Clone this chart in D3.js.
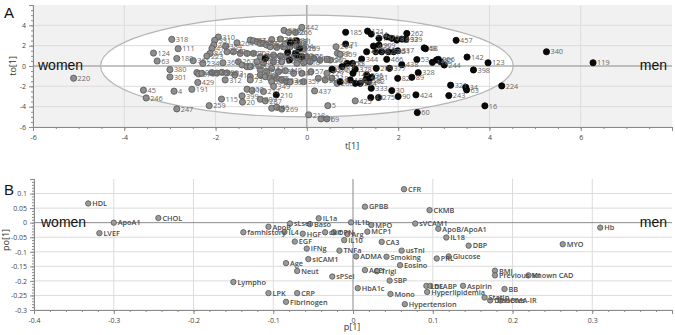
<!DOCTYPE html>
<html>
<head>
<meta charset="utf-8">
<script src="https://cdn.jsdelivr.net/npm/d3@7"></script>
<style>
  body { margin: 0; background: #fff; }
  svg { display: block; }
  text { font-family: "Open Sans", "DejaVu Sans", sans-serif; }
</style>
</head>
<body>
<svg width="675" height="335"></svg>
<script>
// score plot (A): [id, t[1], to[1]]
const womenScores = [
  ["220",-5.11,-1.20],["124",-3.36,1.27],["63",-3.28,0.49],["318",-2.96,2.62],["111",-2.82,1.70],
  ["188",-2.85,0.74],["380",-3.00,-0.36],["301",-3.00,-1.08],["45",-3.58,-2.38],["246",-3.52,-3.14],
  ["4",-2.91,-2.48],["247",-2.85,-4.22],["191",-2.52,-2.29],["429",-2.39,-1.62],["259",-2.14,-3.90],
  ["361",-2.49,0.52],["234",-2.28,0.26],["105",-2.41,-0.65],["379",-2.37,-0.78],["436",-2.30,-0.72],
  ["92",-2.08,-0.65],["156",-1.97,-0.70],["396",-1.86,-0.62],["433",-1.75,-0.68],["115",-1.87,-3.25],
  ["310",-1.94,2.85],["331",-2.02,2.52],["374",-2.04,2.06],["411",-2.08,1.73],["84",-2.12,1.24],
  ["223",-2.19,0.98],["384",-1.78,1.95],["367",-1.84,0.32],["312",-1.79,-1.37],["415",-1.58,-0.88],
  ["264",-1.53,2.28],["290",-1.75,1.40],["47",-1.61,1.40],["334",-1.46,1.24],["152",-1.31,1.24],
  ["203",-1.17,1.24],["387",-1.02,0.91],["172",-0.88,0.91],["252",-0.73,1.08],["101",-0.58,0.98],
  ["316",-0.44,0.91],["12",-0.29,0.85],["306",-0.15,0.75],["461",-1.24,2.55],["97",-1.17,2.48],
  ["265",-1.09,2.38],["177",-1.02,2.22],["288",-0.95,2.22],["134",-0.88,2.06],["36",-0.80,1.89],
  ["226",-0.66,1.83],["148",-0.51,1.89],["311",-0.37,1.89],["404",-0.22,1.96],["239",-0.07,1.73],
  ["372",-0.77,2.60],["255",-0.58,2.65],["158",-0.47,2.20],["208",-0.37,2.40],["281",-0.26,2.45],
  ["395",-0.50,3.50],["386",-0.40,3.30],["266",-0.25,3.30],["267",-1.50,0.42],["126",-1.42,0.10],
  ["295",-1.31,-0.07],["138",-1.24,-0.07],["402",-1.09,0.42],["283",-0.95,0.32],["171",-0.73,0.42],
  ["61",-0.55,0.42],["3",-0.22,0.26],["413",-0.07,0.32],["39",-1.02,-0.39],["304",-0.88,-0.56],
  ["135",-0.62,-0.56],["440",-0.47,-0.46],["184",-0.29,-0.72],["17",-0.11,-0.72],["28",-1.24,-1.05],
  ["196",-1.02,-0.88],["70",-0.91,-1.05],["112",-0.80,-1.21],["25",-0.66,-1.21],["230",-0.77,-1.54],
  ["313",-0.55,-1.37],["140",-0.44,-1.54],["351",-0.37,-1.57],["73",-1.24,-1.37],["41",-0.77,-0.23],
  ["349",-0.73,-2.00],["200",-1.31,-2.28],["1",-1.20,-2.42],["217",-0.95,-2.51],["399",-1.42,-2.94],
  ["20",-1.41,-3.55],["409",-1.02,-3.27],["287",-0.91,-3.43],["65",-0.77,-4.15],["46",-0.66,-4.05],
  ["269",-0.55,-4.24],["218",0.04,-4.80],["81",0.31,-5.20],["69",0.44,-5.20],["442",-0.11,3.80],
  ["57",0.09,-0.56],["437",0.17,-2.45],["5",0.46,-3.90],["425",1.06,-3.43],["362",0.51,0.59],
  ["98",0.67,1.25],["294",0.64,1.89],["305",0.00,0.91],["117",0.15,0.75],["216",0.29,0.59],
  ["150",0.44,0.66],["19",0.07,0.42],["359",0.73,1.15],["343",0.25,-1.21],["29",0.40,-1.37],
  ["118",0.55,-1.21],["260",0.66,-1.70],["229",0.44,-0.72],["270",0.58,-0.39],["357",-0.07,-1.54]
];
const menScores = [
  ["210",-0.67,-2.84],["144",-0.36,2.28],["95",-0.25,1.25],["56",-0.38,0.59],["431",-0.91,0.75],
  ["31",-0.22,2.48],["354",-0.42,1.34],["416",-0.16,1.73],["199",-0.22,1.08],["327",-0.11,0.91],
  ["185",0.85,3.32],["121",1.33,3.43],["254",1.41,3.14],["75",1.58,2.72],["76",1.75,2.87],
  ["262",2.19,3.20],["339",2.17,2.62],["78",1.86,2.72],["18",1.97,2.55],["192",2.08,2.65],
  ["309",1.58,2.06],["405",1.46,1.96],["71",0.85,2.16],["457",3.27,2.53],["48",2.57,1.78],
  ["58",2.60,1.70],["337",1.99,1.50],["42",1.31,1.40],["32",1.51,1.40],["323",1.64,1.40],
  ["176",1.79,1.40],["451",1.90,1.40],["344",1.20,0.69],["466",1.75,0.66],["53",2.41,0.63],
  ["438",2.08,0.13],["285",2.84,0.59],["256",2.88,0.66],["2",2.93,0.42],["110",2.75,0.36],
  ["244",3.01,0.10],["142",3.51,0.88],["123",3.97,0.32],["398",3.65,-0.39],["340",5.25,1.40],
  ["119",6.27,0.32],["209",1.52,-0.23],["377",1.81,-0.23],["328",2.44,-0.66],["89",2.30,-1.11],
  ["82",1.99,-1.21],["181",1.42,-1.11],["162",1.35,-1.54],["125",1.01,-0.72],["378",1.06,-0.32],
  ["106",0.95,-1.37],["279",1.06,-1.70],["204",1.17,-1.70],["228",1.29,-1.37],["8",0.73,-1.54],
  ["296",1.31,-0.88],["99",0.77,-0.07],["450",0.88,0.26],["13",1.00,0.26],["370",0.55,-0.32],
  ["333",1.41,-2.19],["30",1.86,-2.42],["90",2.00,-3.00],["424",2.39,-2.84],["43",1.40,-3.10],
  ["275",1.57,-3.10],["60",2.42,-4.58],["321",3.15,-1.89],["34",3.48,-2.09],["63",3.50,-2.35],
  ["224",4.27,-1.96],["243",3.11,-2.91],["16",3.90,-3.92]
];

// loading plot (B): [variable, p[1], po[1]]
const loadings = [
  ["HDL",-0.332,0.066],["ApoA1",-0.300,0.000],["CHOL",-0.244,0.016],["LVEF",-0.318,-0.036],
  ["Lympho",-0.150,-0.204],["famhistory",-0.1375,-0.033],["ApoB",-0.106,-0.014],["sLsel",-0.079,-0.003],
  ["IL4",-0.086,-0.032],["Baso",-0.054,-0.005],["IL1a",-0.043,0.015],["IL1b",-0.0025,0.001],
  ["HGF",-0.063,-0.038],["EGF",-0.073,-0.065],["ckit",-0.035,-0.033],["OPN",-0.024,-0.033],
  ["Arg",-0.007,-0.039],["IL10",-0.011,-0.060],["IFNg",-0.058,-0.089],["TNFa",-0.017,-0.096],
  ["sICAM1",-0.056,-0.125],["Age",-0.084,-0.139],["Neut",-0.070,-0.166],["sPSel",-0.026,-0.185],
  ["LPK",-0.106,-0.242],["CRP",-0.070,-0.242],["Fibrinogen",-0.084,-0.272],["ADMA",0.004,-0.116],
  ["HbA1c",0.006,-0.225],["CFR",0.064,0.115],["GPBB",0.015,0.055],["CKMB",0.096,0.043],
  ["MPO",0.023,-0.008],["sVCAM1",0.078,-0.003],["MCP1",0.018,-0.031],["ApoB/ApoA1",0.107,-0.021],
  ["IL18",0.117,-0.051],["DBP",0.145,-0.079],["CA3",0.036,-0.066],["usTnI",0.061,-0.096],
  ["Smoking",0.042,-0.117],["PRL",0.105,-0.123],["Glucose",0.120,-0.116],["Eosino",0.059,-0.146],
  ["ACEi",0.015,-0.163],["Trigl",0.030,-0.167],["SBP",0.046,-0.199],["Mono",0.047,-0.245],
  ["Hypertension",0.065,-0.280],["LDL",0.092,-0.217],["hFABP",0.097,-0.217],["Hyperlipidemia",0.093,-0.238],
  ["Aspirin",0.138,-0.217],["Statin",0.165,-0.257],["BMI",0.178,-0.165],["Previous MI",0.178,-0.181],
  ["Known CAD",0.220,-0.181],["BB",0.190,-0.228],["Diabetes",0.172,-0.267],["HOMA-IR",0.185,-0.267],
  ["MYO",0.263,-0.074],["Hb",0.310,-0.017]
];

const aTicksX = [-6, -4, -2, 0, 2, 4, 6];
const aTicksY = [-6, -4, -2, 0, 2, 4];
const bTicksX = [-0.4, -0.3, -0.2, -0.1, 0, 0.1, 0.2, 0.3];
const bTicksY = [-0.3, -0.25, -0.2, -0.15, -0.1, -0.05, 0, 0.05, 0.1];

const svg = d3.select("svg");
const plainFmt = d => String(+(+d).toFixed(2)); //hyphen minus like the original

//draw one panel frame: background, grid, zero lines, axes
function drawFrame(g, x, y, ticksX, ticksY, minorX, minorY, bg) {
  const [x0, x1] = x.range(), [y0, y1] = y.range();
  g.append("rect").attr("x", x0).attr("y", y1).attr("width", x1 - x0).attr("height", y0 - y1).attr("fill", bg);
  return function () {
    g.append("g").selectAll("line").data(ticksX.filter(d => d !== 0)).join("line")
      .attr("x1", d => x(d)).attr("x2", d => x(d)).attr("y1", y0).attr("y2", y1)
      .attr("stroke", "#dcdcdc").attr("stroke-width", 1);
    g.append("g").selectAll("line").data(ticksY.filter(d => d !== 0)).join("line")
      .attr("y1", d => y(d)).attr("y2", d => y(d)).attr("x1", x0).attr("x2", x1)
      .attr("stroke", "#dcdcdc").attr("stroke-width", 1);
    g.append("line").attr("x1", x(0)).attr("x2", x(0)).attr("y1", y0).attr("y2", y1).attr("stroke", "#8a8a8a");
    g.append("line").attr("x1", x0).attr("x2", x1).attr("y1", y(0)).attr("y2", y(0)).attr("stroke", "#8a8a8a");

    const ax = g.append("g").attr("transform", `translate(0,${y0})`)
      .call(d3.axisBottom(x).tickValues(ticksX).tickSize(4).tickFormat(plainFmt));
    g.append("g").attr("transform", `translate(0,${y0})`)
      .call(d3.axisBottom(x).tickValues(minorX).tickSize(2).tickFormat(""));
    g.append("g").attr("transform", `translate(${x0},0)`)
      .call(d3.axisLeft(y).tickValues(ticksY).tickSize(4).tickFormat(plainFmt));
    g.append("g").attr("transform", `translate(${x0},0)`)
      .call(d3.axisLeft(y).tickValues(minorY).tickSize(2).tickFormat(""));
    g.selectAll(".domain").attr("stroke", "#8a8a8a");
    g.selectAll(".tick line").attr("stroke", "#8a8a8a");
    g.selectAll(".tick text").attr("fill", "#444").style("font-size", "7px")
      .style("font-family", "'Open Sans', sans-serif");
    ax.selectAll(".tick text").attr("dy", "0.9em");
  };
}

//panel A
const xA = d3.scaleLinear().domain([-6, 8]).range([33, 672]);
const yA = d3.scaleLinear().domain([-6, 6]).range([127, 5]);
const gA = svg.append("g");
const finishA = drawFrame(gA, xA, yA, aTicksX, aTicksY,
  d3.range(-6, 8.01, 0.5), d3.range(-6, 6.01, 0.5), "#f1f1f1");
gA.append("ellipse")
  .attr("cx", xA(0)).attr("cy", yA(0))
  .attr("rx", xA(4.52) - xA(0)).attr("ry", yA(0) - yA(5))
  .attr("fill", "#fff");
finishA();
gA.append("ellipse")
  .attr("cx", xA(0)).attr("cy", yA(0))
  .attr("rx", xA(4.52) - xA(0)).attr("ry", yA(0) - yA(5))
  .attr("fill", "none").attr("stroke", "#b4b4b4").attr("stroke-width", 1.2);

function drawScores(data, fill, stroke) {
  gA.append("g").selectAll("circle").data(data).join("circle")
    .attr("cx", d => xA(d[1])).attr("cy", d => yA(d[2])).attr("r", 3.1)
    .attr("fill", fill).attr("stroke", stroke).attr("stroke-width", 0.8);
}
drawScores(womenScores, "#8e8e8e", "#555");
drawScores(menScores, "#0a0a0a", "#000");
gA.append("g").selectAll("text").data(womenScores.concat(menScores)).join("text")
  .attr("x", d => xA(d[1]) + 4).attr("y", d => yA(d[2]) + 2.7)
  .attr("fill", "#666").style("font-size", "7.3px").text(d => d[0]);

gA.append("text").attr("x", 4).attr("y", 18).style("font-size", "15px")
  .style("font-family", "'Liberation Sans', Arial, sans-serif").attr("fill", "#111").text("A");
gA.append("text").attr("transform", "translate(16,66) rotate(-90)").attr("text-anchor", "middle")
  .style("font-size", "9px").attr("fill", "#333").text("to[1]");
gA.append("text").attr("x", 352).attr("y", 149).attr("text-anchor", "middle")
  .style("font-size", "9px").attr("fill", "#333").text("t[1]");
gA.append("text").attr("x", 38).attr("y", 70).style("font-size", "14px")
  .style("font-family", "'Liberation Sans', Arial, sans-serif").attr("fill", "#111").text("women");
gA.append("text").attr("x", 667).attr("y", 70).attr("text-anchor", "end").style("font-size", "14px")
  .style("font-family", "'Liberation Sans', Arial, sans-serif").attr("fill", "#111").text("men");

//panel B
const xB = d3.scaleLinear().domain([-0.4, 0.4]).range([34, 672]);
const yB = d3.scaleLinear().domain([-0.3, 0.15]).range([310, 179]);
const gB = svg.append("g");
const finishB = drawFrame(gB, xB, yB, bTicksX, bTicksY,
  d3.range(-0.4, 0.401, 0.02), d3.range(-0.3, 0.1501, 0.01), "#fff");
finishB();

gB.append("g").selectAll("circle").data(loadings).join("circle")
  .attr("cx", d => xB(d[1])).attr("cy", d => yB(d[2])).attr("r", 2.7)
  .attr("fill", "#9a9a9a").attr("stroke", "#555").attr("stroke-width", 0.8);
gB.append("g").selectAll("text").data(loadings).join("text")
  .attr("x", d => xB(d[1]) + 4).attr("y", d => yB(d[2]) + 2.8)
  .attr("fill", "#4a4a4a").style("font-size", "7.3px").style("font-weight", "600").text(d => d[0]);

gB.append("text").attr("x", 4).attr("y", 195).style("font-size", "15px")
  .style("font-family", "'Liberation Sans', Arial, sans-serif").attr("fill", "#111").text("B");
gB.append("text").attr("transform", "translate(9,240) rotate(-90)").attr("text-anchor", "middle")
  .style("font-size", "9px").attr("fill", "#333").text("po[1]");
gB.append("text").attr("x", 352).attr("y", 330).attr("text-anchor", "middle")
  .style("font-size", "9px").attr("fill", "#333").text("p[1]");
gB.append("text").attr("x", 41).attr("y", 227).style("font-size", "14px")
  .style("font-family", "'Liberation Sans', Arial, sans-serif").attr("fill", "#111").text("women");
gB.append("text").attr("x", 667).attr("y", 227).attr("text-anchor", "end").style("font-size", "14px")
  .style("font-family", "'Liberation Sans', Arial, sans-serif").attr("fill", "#111").text("men");
</script>
</body>
</html>
